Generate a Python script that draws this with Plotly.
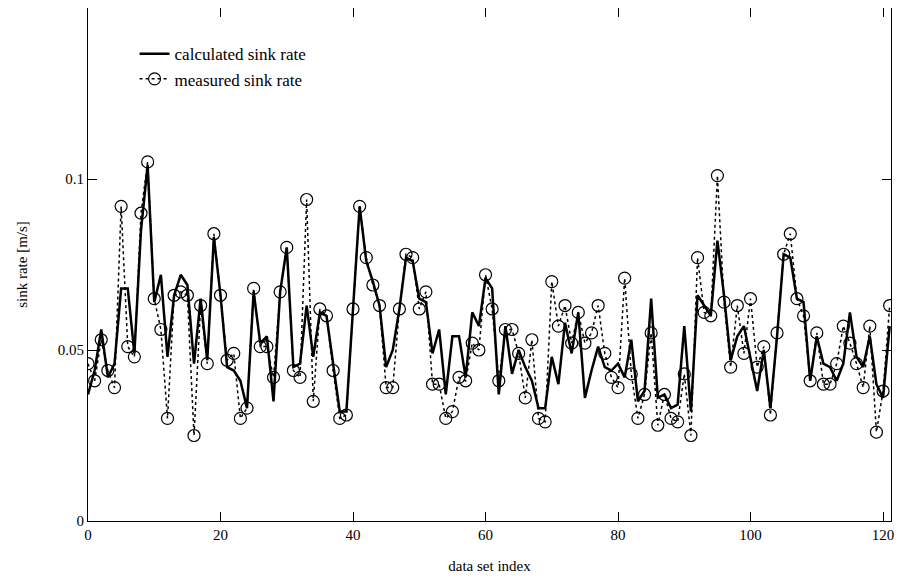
import plotly.graph_objects as go

index = list(range(122))

calculated = [
    0.037, 0.044, 0.056, 0.042, 0.046, 0.068, 0.068, 0.049, 0.085, 0.104,
    0.064, 0.072, 0.048, 0.066, 0.072, 0.069, 0.046, 0.065, 0.047, 0.083,
    0.066, 0.045, 0.044, 0.041, 0.033, 0.067, 0.052, 0.054, 0.035, 0.067,
    0.080, 0.045, 0.046, 0.063, 0.048, 0.061, 0.060, 0.046, 0.032, 0.032,
    0.063, 0.092, 0.076, 0.070, 0.063, 0.045, 0.050, 0.062, 0.077, 0.076,
    0.065, 0.064, 0.049, 0.056, 0.037, 0.054, 0.054, 0.042, 0.061, 0.057,
    0.071, 0.068, 0.037, 0.057, 0.043, 0.050, 0.045, 0.041, 0.033, 0.033,
    0.048, 0.040, 0.058, 0.049, 0.061, 0.036, 0.044, 0.051, 0.045, 0.044,
    0.046, 0.042, 0.053, 0.035, 0.038, 0.065, 0.036, 0.037, 0.033, 0.034,
    0.057, 0.032, 0.066, 0.063, 0.060, 0.082, 0.066, 0.047, 0.054, 0.057,
    0.048, 0.038, 0.050, 0.033, 0.054, 0.078, 0.077, 0.065, 0.064, 0.041,
    0.054, 0.046, 0.045, 0.041, 0.046, 0.061, 0.048, 0.045, 0.054, 0.040,
    0.036, 0.057,
]

measured = [
    0.046, 0.041, 0.053, 0.044, 0.039, 0.092, 0.051, 0.048, 0.090, 0.105,
    0.065, 0.056, 0.030, 0.066, 0.067, 0.066, 0.025, 0.063, 0.046, 0.084,
    0.066, 0.047, 0.049, 0.030, 0.033, 0.068, 0.051, 0.051, 0.042, 0.067,
    0.080, 0.044, 0.042, 0.094, 0.035, 0.062, 0.060, 0.044, 0.030, 0.031,
    0.062, 0.092, 0.077, 0.069, 0.063, 0.039, 0.039, 0.062, 0.078, 0.077,
    0.062, 0.067, 0.040, 0.040, 0.030, 0.032, 0.042, 0.041, 0.052, 0.050,
    0.072, 0.062, 0.041, 0.056, 0.056, 0.049, 0.036, 0.053, 0.030, 0.029,
    0.070, 0.057, 0.063, 0.052, 0.061, 0.052, 0.055, 0.063, 0.049, 0.042,
    0.039, 0.071, 0.043, 0.030, 0.037, 0.055, 0.028, 0.037, 0.030, 0.029,
    0.043, 0.025, 0.077, 0.061, 0.060, 0.101, 0.064, 0.045, 0.063, 0.049,
    0.065, 0.045, 0.051, 0.031, 0.055, 0.078, 0.084, 0.065, 0.060, 0.041,
    0.055, 0.040, 0.040, 0.046, 0.057, 0.052, 0.046, 0.039, 0.057, 0.026,
    0.038, 0.063,
]

x_ticks = [0, 20, 40, 60, 80, 100, 120]
y_ticks = [0, 0.05, 0.1]
y_tick_labels = ["0", "0.05", "0.1"]

font_family = "Liberation Serif, Times New Roman, serif"

fig = go.Figure()
fig.add_trace(go.Scatter(
    x=index, y=calculated, mode="lines", name="calculated sink rate",
    line=dict(color="black", width=2.5),
))
fig.add_trace(go.Scatter(
    x=index, y=measured, mode="lines+markers", name="measured sink rate",
    line=dict(color="black", width=1.5, dash="dot"),
    marker=dict(symbol="circle-open", size=12, color="black",
                line=dict(color="black", width=1.2)),
))

axis_common = dict(
    showgrid=False, zeroline=False, showline=True, linecolor="black",
    linewidth=1, mirror="ticks", ticks="inside", ticklen=9, tickcolor="black",
    tickfont=dict(family=font_family, size=15, color="black"),
)

fig.update_layout(
    width=895, height=571,
    margin=dict(l=80, r=12, t=0, b=58),
    paper_bgcolor="white", plot_bgcolor="white",
    font=dict(family=font_family, size=15, color="black"),
    showlegend=True,
    legend=dict(x=0.058, y=0.945, xanchor="left", yanchor="top",
                bgcolor="rgba(0,0,0,0)",
                font=dict(family=font_family, size=17, color="black")),
    xaxis=dict(range=[0, 121.2], tickvals=x_ticks,
               title=dict(text="data set index", standoff=18,
                          font=dict(family=font_family, size=15)),
               **axis_common),
    yaxis=dict(range=[0, 0.15], tickvals=y_ticks, ticktext=y_tick_labels,
               title=dict(text="sink rate [m/s]", standoff=26,
                          font=dict(family=font_family, size=15)),
               **axis_common),
)

fig.write_html("out.html")
